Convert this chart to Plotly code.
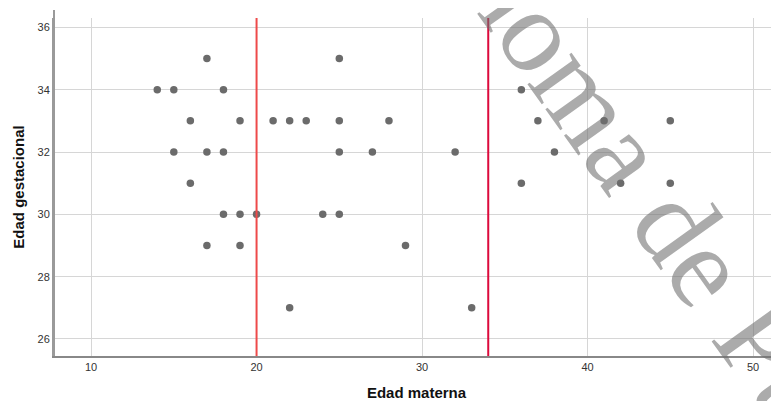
import plotly.graph_objects as go

# Data
edad_materna = [14, 15, 15, 16, 16, 17, 17, 17, 18, 18, 18, 19, 19, 19, 20,
                21, 22, 22, 23, 24, 25, 25, 25, 25, 27, 28, 29, 32, 33,
                36, 36, 37, 38, 41, 42, 45, 45]
edad_gestacional = [34, 34, 32, 33, 31, 35, 32, 29, 34, 32, 30, 33, 30, 29, 30,
                    33, 33, 27, 33, 30, 35, 33, 32, 30, 32, 33, 29, 32, 27,
                    34, 31, 33, 32, 33, 31, 33, 31]

ref_lines_x = [20, 34]
ref_line_colors = ["#ee4a4a", "#dc0a3c"]

x_ticks = [10, 20, 30, 40, 50]
y_ticks = [26, 28, 30, 32, 34, 36]

watermark_text = "Autónoma de Puebla"

fig = go.Figure()
fig.add_trace(go.Scatter(
    x=edad_materna, y=edad_gestacional, mode="markers",
    marker=dict(color="#6b6b6b", size=7.5, line=dict(width=0)),
    showlegend=False, hoverinfo="x+y",
))

shapes = []
for xv, col in zip(ref_lines_x, ref_line_colors):
    shapes.append(dict(type="line", xref="x", yref="paper", x0=xv, x1=xv,
                       y0=0, y1=1, line=dict(color=col, width=2), layer="above"))
# small extension of the y axis line above the plot area
shapes.append(dict(type="line", xref="paper", yref="paper", x0=0, x1=0,
                   y0=0, y1=1.024, line=dict(color="#9a9a9a", width=2), layer="above"))

axis_font = dict(family="Liberation Sans, Arial, sans-serif", size=11, color="#333333")
title_font = dict(family="Liberation Sans, Arial, sans-serif", size=15, color="#111111",
                  weight="bold")

fig.update_layout(
    width=771, height=393,
    margin=dict(l=46, r=0, t=10, b=45),
    plot_bgcolor="white", paper_bgcolor="white",
    shapes=shapes,
    xaxis=dict(
        range=[7.76, 51.57], tickvals=x_ticks, ticktext=[str(v) for v in x_ticks],
        showgrid=True, gridcolor="#d6d6d6", gridwidth=1,
        showline=True, linecolor="#888888", linewidth=2,
        zeroline=False, ticks="", tickfont=axis_font,
        title=dict(text="Edad materna", font=title_font, standoff=15),
        automargin=False,
    ),
    yaxis=dict(
        range=[25.454, 36.30], tickvals=y_ticks, ticktext=[str(v) for v in y_ticks],
        showgrid=True, gridcolor="#d6d6d6", gridwidth=1,
        showline=True, linecolor="#9a9a9a", linewidth=2,
        zeroline=False, ticks="", tickfont=axis_font,
        title=dict(text="Edad gestacional", font=title_font, standoff=9),
        automargin=False,
    ),
    annotations=[dict(
        text=watermark_text, xref="paper", yref="paper", x=0.808, y=0.5385,
        xanchor="center", yanchor="middle", textangle=54.4, showarrow=False,
        font=dict(family="Liberation Serif, Times New Roman, serif", size=118,
                  color="rgba(110,110,110,0.58)"),
    )],
)

fig.write_html("out.html")
